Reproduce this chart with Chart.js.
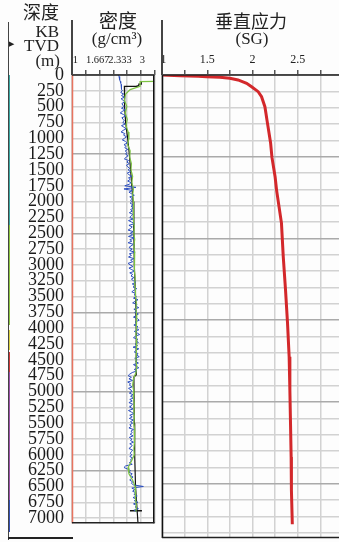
<!DOCTYPE html>
<html>
<head>
<meta charset="utf-8">
<script src="https://cdn.jsdelivr.net/npm/chart.js@4.4.0/dist/chart.umd.min.js"></script>
<style>
  html, body { margin: 0; padding: 0; width: 339px; height: 542px; overflow: hidden; background: #fdfdfd; }
  #wrap { position: relative; width: 339px; height: 542px; overflow: hidden; }
  canvas { position: absolute; top: 0; }
  #cDen { left: 0; }
  #cSv { left: 150px; }
  .t { position: absolute; font-family: 'Liberation Serif', serif; color: #222; white-space: nowrap; line-height: 1; }
  .cjk { font-family: 'Noto Sans CJK SC', sans-serif; }
  .ln { position: absolute; background: #444; }
</style>
</head>
<body>
<div id="wrap">
  <canvas id="cDen" width="162" height="542"></canvas>
  <canvas id="cSv" width="200" height="542"></canvas>

  <!-- header -->
  <div class="t cjk" style="right:280px;top:2px;font-size:18px;">深度</div>
  <div class="t" style="right:280px;top:23px;font-size:17px;">KB</div>
  <div class="t" style="right:280px;top:37px;font-size:17px;">TVD</div>
  <div class="t" style="right:279px;top:52px;font-size:17px;">(m)</div>
  <div class="t cjk" style="left:77px;width:82px;text-align:center;top:10px;font-size:19px;">密度</div>
  <div class="t" style="left:76px;width:82px;text-align:center;top:30px;font-size:17px;">(g/cm³)</div>
  <div class="t cjk" style="left:201px;width:100px;text-align:center;top:11px;font-size:18px;">垂直应力</div>
  <div class="t" style="left:202px;width:100px;text-align:center;top:30px;font-size:17px;">(SG)</div>
  <div class="t" style="left:9px;top:41px;font-size:7px;font-family:'DejaVu Sans';">▶</div>

  <div class="ln" style="left:7.5px;top:22px;width:1.5px;height:518px;"></div>
  <div class="ln" style="left:71px;top:20px;width:1.5px;height:55px;"></div>
  <div class="ln" style="left:161px;top:20px;width:1.5px;height:55px;"></div>
  <div class="ln" style="left:7.5px;top:537px;width:65px;height:1.5px;background:#222;"></div>

  <div class="ln" style="left:8.5px;top:75px;width:1px;height:150px;background:#3aa8a3;"></div>
  <div class="ln" style="left:8.5px;top:225px;width:1px;height:100px;background:#8cc63f;"></div>
  <div class="ln" style="left:8.5px;top:330px;width:1px;height:20px;background:#d8d040;"></div>
  <div class="ln" style="left:8.5px;top:352px;width:1px;height:20px;background:#d03a3a;"></div>
  <div class="ln" style="left:8.5px;top:372px;width:1px;height:128px;background:#9a4fa8;"></div>
  <div class="ln" style="left:8.5px;top:500px;width:1px;height:32px;background:#3550b5;"></div>
</div>

<script>
// depth axis (m), grid every 250 m
const depthTicks = [0, 250, 500, 750, 1000, 1250, 1500, 1750, 2000, 2250, 2500, 2750, 3000, 3250, 3500,
  3750, 4000, 4250, 4500, 4750, 5000, 5250, 5500, 5750, 6000, 6250, 6500, 6750, 7000];

// density track (g/cm3)
const denGridTicks = [1, 1.333, 1.667, 2, 2.333, 2.667, 3];
const denLabelTicks = [1, 1.667, 2.333, 3];
const denLabelText = ['1', '1.667', '2.333', '3'];

// vertical stress track (SG)
const svGridTicks = [1, 1.25, 1.5, 1.75, 2, 2.25, 2.5, 2.75, 3];
const svLabelText = [' 1', '', '1.5', '', '2', '', '2.5', '', '3'];

// blue: measured density log
const blueDepth = [
  0, 25, 50, 75, 100, 125, 150, 175, 200, 225,
  250, 275, 300, 325, 350, 375, 400, 425, 450, 475,
  500, 525, 550, 575, 600, 625, 650, 675, 700, 725,
  750, 775, 800, 825, 850, 875, 900, 925, 950, 975,
  1000, 1025, 1050, 1075, 1100, 1125, 1150, 1175, 1200, 1225,
  1250, 1275, 1300, 1325, 1350, 1375, 1400, 1425, 1450, 1475,
  1500, 1525, 1550, 1575, 1600, 1625, 1650, 1675, 1700, 1725,
  1750, 1775, 1800, 1825, 1850, 1875, 1900, 1925, 1950, 1975,
  2000, 2025, 2050, 2075, 2100, 2125, 2150, 2175, 2200, 2225,
  2250, 2275, 2300, 2325, 2350, 2375, 2400, 2425, 2450, 2475,
  2500, 2525, 2550, 2575, 2600, 2625, 2650, 2675, 2700, 2725,
  2750, 2775, 2800, 2825, 2850, 2875, 2900, 2925, 2950, 2975,
  3000, 3025, 3050, 3075, 3100, 3125, 3150, 3175, 3200, 3225,
  3250, 3275, 3300, 3325, 3350, 3375, 3400, 3425, 3450, 3475,
  3500, 3525, 3550, 3575, 3600, 3625, 3650, 3675, 3700, 3725,
  3750, 3775, 3800, 3825, 3850, 3875, 3900, 3925, 3950, 3975,
  4000, 4025, 4050, 4075, 4100, 4125, 4150, 4175, 4200, 4225,
  4250, 4275, 4300, 4325, 4350, 4375, 4400, 4425, 4450, 4475,
  4500, 4525, 4550, 4575, 4600, 4625, 4650, 4675, 4700, 4725,
  4750, 4775, 4800, 4825, 4850, 4875, 4900, 4925, 4950, 4975,
  5000, 5025, 5050, 5075, 5100, 5125, 5150, 5175, 5200, 5225,
  5250, 5275, 5300, 5325, 5350, 5375, 5400, 5425, 5450, 5475,
  5500, 5525, 5550, 5575, 5600, 5625, 5650, 5675, 5700, 5725,
  5750, 5775, 5800, 5825, 5850, 5875, 5900, 5925, 5950, 5975,
  6000, 6025, 6050, 6075, 6100, 6125, 6150, 6175, 6200, 6225,
  6250, 6275, 6300, 6325, 6350, 6375, 6400, 6425, 6450, 6475,
  6500, 6525, 6550, 6575, 6600, 6625, 6650, 6675, 6700, 6725,
  6750, 6775, 6800, 6825, 6850, 6875, 6900];
const blueRho = [
  2.13, 2.14, 2.15, 2.16, 2.17, 2.18, 2.19, 2.19, 2.20, 2.21,
  2.22, 2.18, 2.25, 2.20, 2.27, 2.19, 2.24, 2.28, 2.21, 2.23,
  2.26, 2.20, 2.29, 2.22, 2.17, 2.25, 2.30, 2.21, 2.24, 2.27,
  2.23, 2.29, 2.20, 2.26, 2.31, 2.24, 2.19, 2.28, 2.25, 2.32,
  2.27, 2.22, 2.30, 2.34, 2.26, 2.31, 2.28, 2.35, 2.29, 2.33,
  2.30, 2.36, 2.31, 2.27, 2.37, 2.33, 2.39, 2.32, 2.35, 2.40,
  2.36, 2.42, 2.34, 2.38, 2.45, 2.37, 2.41, 2.35, 2.43, 2.39,
  2.28, 2.55, 2.26, 2.47, 2.38, 2.44, 2.51, 2.40, 2.46, 2.42,
  2.45, 2.41, 2.48, 2.43, 2.50, 2.42, 2.46, 2.39, 2.47, 2.44,
  2.40, 2.48, 2.37, 2.45, 2.51, 2.38, 2.46, 2.42, 2.36, 2.49,
  2.41, 2.47, 2.37, 2.52, 2.40, 2.45, 2.36, 2.49, 2.43, 2.38,
  2.46, 2.40, 2.53, 2.39, 2.44, 2.37, 2.50, 2.42, 2.47, 2.36,
  2.41, 2.48, 2.38, 2.45, 2.52, 2.40, 2.47, 2.43, 2.50, 2.44,
  2.49, 2.55, 2.46, 2.52, 2.48, 2.57, 2.50, 2.45, 2.54, 2.51,
  2.56, 2.49, 2.60, 2.53, 2.47, 2.58, 2.54, 2.62, 2.50, 2.57,
  2.52, 2.61, 2.55, 2.49, 2.59, 2.63, 2.53, 2.57, 2.50, 2.60,
  2.55, 2.62, 2.51, 2.58, 2.64, 2.54, 2.49, 2.60, 2.56, 2.61,
  2.53, 2.59, 2.48, 2.62, 2.55, 2.51, 2.60, 2.57, 2.63, 2.52,
  2.58, 2.54, 2.61, 2.49, 2.56, 2.62, 2.51, 2.57, 2.46, 2.40,
  2.36, 2.44, 2.38, 2.47, 2.35, 2.42, 2.39, 2.46, 2.37, 2.43,
  2.45, 2.39, 2.48, 2.42, 2.50, 2.40, 2.46, 2.38, 2.47, 2.43,
  2.41, 2.48, 2.37, 2.44, 2.50, 2.40, 2.46, 2.39, 2.49, 2.42,
  2.47, 2.40, 2.44, 2.38, 2.49, 2.43, 2.46, 2.41, 2.48, 2.39,
  2.45, 2.42, 2.49, 2.40, 2.46, 2.43, 2.38, 2.47, 2.44, 2.41,
  2.45, 2.40, 2.47, 2.42, 2.44, 2.39, 2.46, 2.30, 2.26, 2.35,
  2.42, 2.38, 2.46, 2.41, 2.48, 2.43, 2.40, 2.47, 2.44, 2.49,
  2.73, 2.45, 2.52, 2.47, 2.55, 2.50, 2.58, 2.48, 2.56, 2.51,
  2.60, 2.49, 2.57, 2.53, 2.61, 2.50, 2.56];

// green: smoothed density
const greenDepth = [102, 104, 178, 230,
  300, 400, 500, 600, 700, 800, 900, 1000, 1100, 1200, 1300, 1400, 1500, 1600, 1700, 1800, 1900,
  2000, 2100, 2200, 2300, 2400, 2500, 2600, 2700, 2800, 2900, 3000, 3100, 3200, 3300, 3400, 3500,
  3600, 3700, 3800, 3900, 4000, 4100, 4200, 4300, 4400, 4500, 4600, 4700, 4800, 4900, 5000, 5100,
  5200, 5300, 5400, 5500, 5600, 5700, 5800, 5900, 6000, 6100, 6200, 6300, 6400, 6500, 6600, 6700,
  6800, 6900];
const greenRho = [3.0, 2.65, 2.65, 2.41,
  2.30, 2.27, 2.33, 2.29, 2.34, 2.31, 2.36, 2.38, 2.35, 2.41, 2.40, 2.44, 2.43, 2.47, 2.45, 2.49, 2.47,
  2.49, 2.48, 2.50, 2.49, 2.51, 2.50, 2.52, 2.50, 2.52, 2.51, 2.52, 2.51, 2.53, 2.52, 2.54, 2.54,
  2.56, 2.55, 2.57, 2.56, 2.56, 2.55, 2.57, 2.56, 2.56, 2.55, 2.57, 2.55, 2.49, 2.47, 2.50, 2.49,
  2.51, 2.50, 2.51, 2.50, 2.52, 2.51, 2.52, 2.50, 2.51, 2.44, 2.36, 2.38, 2.47, 2.53, 2.55, 2.53,
  2.56, 2.55];

// black: density trend
const trendDepth = [110, 145, 145, 172, 172, 180, 180, 250, 500, 750, 1000, 1250, 1500, 1750, 2000,
  2500, 3000, 3500, 4000, 4740, 4770, 5500, 6000, 6500, 7080];
const trendRho = [2.68, 2.68, 2.62, 2.62, 2.58, 2.58, 2.27, 2.27, 2.28, 2.30, 2.35, 2.39, 2.42, 2.45, 2.48,
  2.50, 2.51, 2.54, 2.557, 2.557, 2.50, 2.51, 2.52, 2.54, 2.60];
const markDepth = [6885];
const markRho = [2.55];

// red: vertical stress gradient
const svDepth = [0, 10, 20, 26, 35, 50, 76, 127, 179, 255, 332, 485, 580, 690, 1040, 1260, 1560, 1760,
  2265, 2780, 3290, 3795, 4310, 4820, 5325, 5840, 6350, 6870];
const svValue = [1.0, 1.2, 1.4, 1.49, 1.64, 1.75, 1.84, 1.935, 1.99, 2.063, 2.10, 2.137, 2.148, 2.16, 2.20,
  2.215, 2.25, 2.266, 2.32, 2.34, 2.365, 2.387, 2.405, 2.413, 2.42, 2.427, 2.43, 2.44];

function pairs(ys, xs) {
  return ys.map((d, i) => ({ x: xs[i], y: d }));
}

const serif = 'Liberation Serif';

// frame round the plot area, one colour per side
const frame = {
  id: 'frame',
  afterDraw(chart, args, o) {
    const a = chart.chartArea, c = chart.ctx;
    c.save();
    c.lineWidth = o.width;
    function seg(col, x1, y1, x2, y2) {
      if (!col) return;
      c.strokeStyle = col;
      c.beginPath(); c.moveTo(x1, y1); c.lineTo(x2, y2); c.stroke();
    }
    seg(o.left, a.left + 0.5, a.top, a.left + 0.5, a.bottom);
    seg(o.right, a.right - 0.75, a.top, a.right - 0.75, a.bottom);
    seg(o.top, a.left, a.top, a.right, a.top);
    seg(o.bottom, a.left, a.bottom - 0.5, a.right, a.bottom - 0.5);
    c.restore();
  }
};

function depthAxis(width, showLabels) {
  return {
    type: 'linear', reverse: true, min: 0, max: 7080,
    afterBuildTicks: s => { s.ticks = depthTicks.map(v => ({ value: v })); },
    afterFit: s => { s.width = width; },
    ticks: { display: showLabels, autoSkip: false, padding: 8, color: '#1a1a1a', font: { family: serif, size: 18 },
      callback: v => String(v) },
    grid: { drawTicks: false, lineWidth: 1.5, color: c => (c.tick && c.tick.value % 1250 === 0) ? '#aaaaaa' : '#d2d2d2' },
    border: { display: false }
  };
}

Chart.defaults.animation = false;

new Chart(document.getElementById('cDen'), {
  type: 'line',
  data: {
    datasets: [
      { data: pairs(greenDepth, greenRho), xAxisID: 'x', borderColor: '#7cc242', borderWidth: 1.2, pointRadius: 0 },
      { data: pairs(blueDepth, blueRho), xAxisID: 'x', borderColor: '#2d4fbf', borderWidth: 1, pointRadius: 0 },
      { data: pairs(trendDepth, trendRho), xAxisID: 'x', borderColor: '#111', borderWidth: 1.2, pointRadius: 0 },
      { data: pairs(markDepth, markRho), xAxisID: 'x', showLine: false, pointStyle: 'line', pointRadius: 6,
        borderColor: '#111', borderWidth: 1.5 }
    ]
  },
  options: {
    responsive: false,
    indexAxis: 'y',
    layout: { padding: { top: 0, right: 0, bottom: 4, left: 0 } },
    plugins: {
      legend: { display: false },
      tooltip: { enabled: false },
      frame: { width: 1.5, left: '#e8735f', right: '#111', top: '#222', bottom: '#222' }
    },
    scales: {
      x: {
        type: 'linear', position: 'top', min: 1, max: 3, weight: 0,
        afterBuildTicks: s => { s.ticks = denGridTicks.map(v => ({ value: v })); },
        afterFit: s => { s.height = 5; },
        ticks: { display: false },
        grid: { color: '#d2d2d2', lineWidth: 1.5, tickLength: 5, tickColor: '#555' },
        border: { display: false }
      },
      xl: {
        type: 'linear', position: 'top', min: 0.899, max: 3.364, weight: 1,
        afterBuildTicks: s => { s.ticks = denLabelTicks.map(v => ({ value: v })); },
        afterFit: s => { s.height = 70; },
        ticks: { autoSkip: false, maxRotation: 0, padding: 3, color: '#222', font: { family: serif, size: 10.5 },
          callback: (v, i) => denLabelText[i] },
        grid: { display: false, drawTicks: false },
        border: { display: false }
      },
      y: depthAxis(72, true)
    }
  },
  plugins: [frame]
});

new Chart(document.getElementById('cSv'), {
  type: 'line',
  data: {
    datasets: [
      { data: pairs(svDepth, svValue), borderColor: '#d3282b', borderWidth: 3, pointRadius: 0 }
    ]
  },
  options: {
    responsive: false,
    indexAxis: 'y',
    layout: { padding: { top: 0, right: 7, bottom: 4, left: 12 } },
    plugins: {
      legend: { display: false },
      tooltip: { enabled: false },
      frame: { width: 1.5, left: '#111', top: '#222', bottom: '#222' }
    },
    scales: {
      x: {
        type: 'linear', position: 'top', min: 1, max: 3,
        afterBuildTicks: s => { s.ticks = svGridTicks.map(v => ({ value: v })); },
        afterFit: s => { s.height = 75; },
        ticks: { autoSkip: false, maxRotation: 0, padding: 3, color: '#222', font: { family: serif, size: 12 },
          callback: (v, i) => svLabelText[i] },
        grid: { color: '#d2d2d2', lineWidth: 1.5, tickLength: 5, tickColor: '#555' },
        border: { display: false }
      },
      y: depthAxis(0, false)
    }
  },
  plugins: [frame]
});
</script>
</body>
</html>
